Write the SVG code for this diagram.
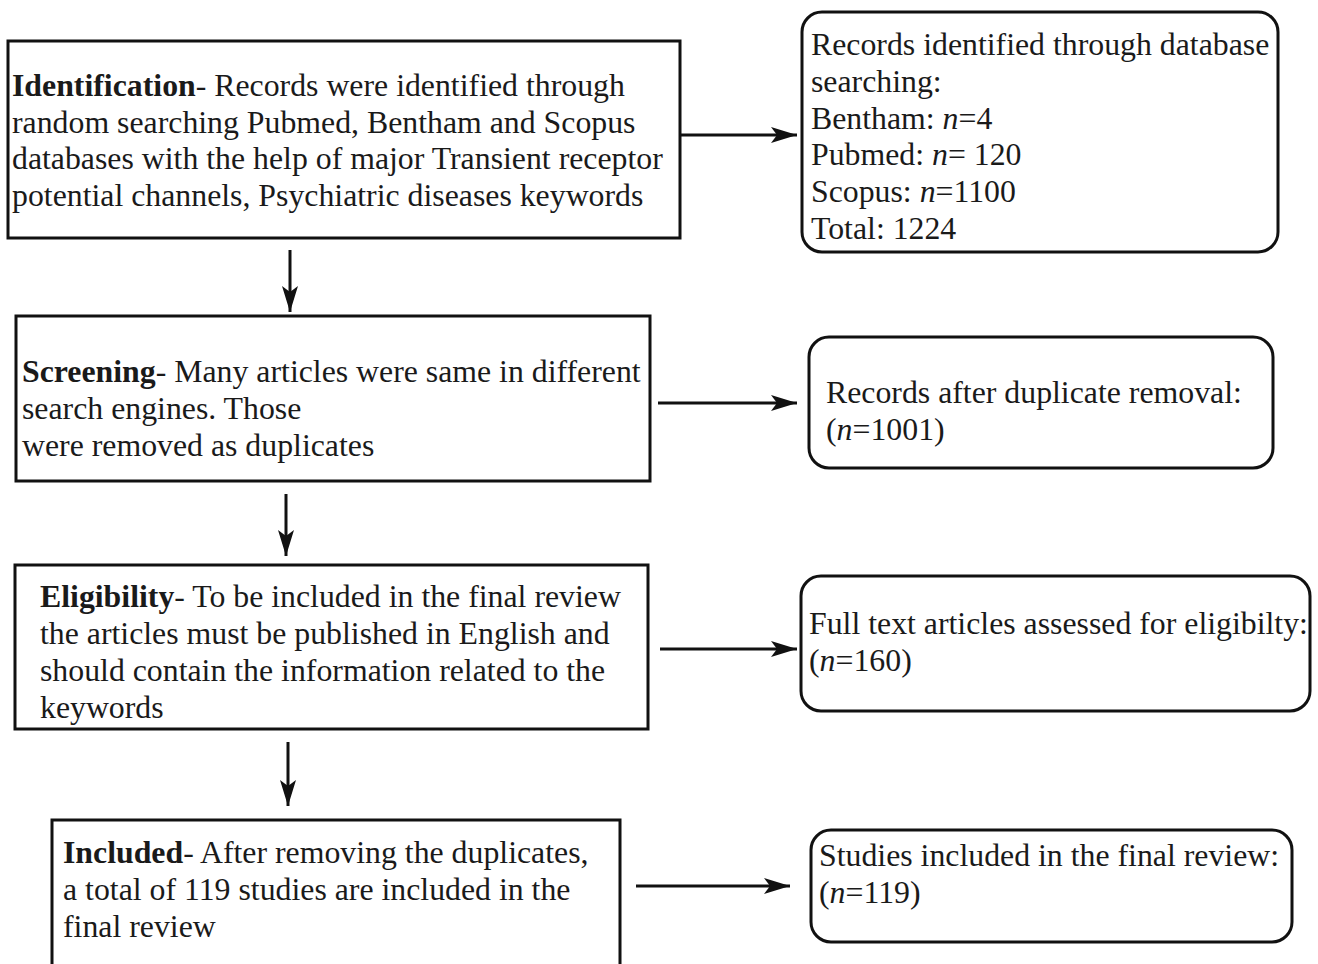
<svg xmlns="http://www.w3.org/2000/svg" width="1318" height="964" viewBox="0 0 1318 964">
<style>
.box{fill:#fff;stroke:#111;stroke-width:3}
.t{font-family:"Liberation Serif","Times New Roman",serif;font-size:31.8px;fill:#1a1a1a}
.b{font-weight:bold}
.i{font-style:italic}
.c{stroke:#111;stroke-width:3;fill:none}
</style>
<defs>
<marker id="arr" viewBox="0 0 26 16" refX="26" refY="8" markerWidth="26" markerHeight="16" markerUnits="userSpaceOnUse" orient="auto">
<path d="M0,0 L26,8 L0,16 L6,8 Z" fill="#111"/>
</marker>
</defs>
<rect width="1318" height="964" fill="#fff"/>
<g id="identification">
<rect class="box" x="8" y="41" width="672" height="197"/>
<text class="t" x="12" y="96"><tspan class="b">Identification</tspan>- Records were identified through</text>
<text class="t" x="12" y="133">random searching Pubmed, Bentham and Scopus</text>
<text class="t" x="12" y="169">databases with the help of major Transient receptor</text>
<text class="t" x="12" y="206">potential channels, Psychiatric diseases keywords</text>
</g>
<g id="records-identified">
<rect class="box" x="802" y="12" width="476" height="240" rx="20"/>
<text class="t" x="811" y="55">Records identified through database</text>
<text class="t" x="811" y="92">searching:</text>
<text class="t" x="811" y="129">Bentham: <tspan class="i">n</tspan>=4</text>
<text class="t" x="811" y="165">Pubmed: <tspan class="i">n</tspan>= 120</text>
<text class="t" x="811" y="202">Scopus: <tspan class="i">n</tspan>=1100</text>
<text class="t" x="811" y="239">Total: 1224</text>
</g>
<g id="screening">
<rect class="box" x="16" y="316" width="634" height="165"/>
<text class="t" x="22" y="382"><tspan class="b">Screening</tspan>- Many articles were same in different</text>
<text class="t" x="22" y="419">search engines. Those</text>
<text class="t" x="22" y="456">were removed as duplicates</text>
</g>
<g id="after-duplicates">
<rect class="box" x="809" y="337" width="464" height="131" rx="20"/>
<text class="t" x="826" y="403">Records after duplicate removal:</text>
<text class="t" x="826" y="440">(<tspan class="i">n</tspan>=1001)</text>
</g>
<g id="eligibility">
<rect class="box" x="15" y="565" width="633" height="164"/>
<text class="t" x="40" y="607"><tspan class="b">Eligibility</tspan>- To be included in the final review</text>
<text class="t" x="40" y="644">the articles must be published in English and</text>
<text class="t" x="40" y="681">should contain the information related to the</text>
<text class="t" x="40" y="718">keywords</text>
</g>
<g id="full-text">
<rect class="box" x="801" y="576" width="509" height="135" rx="20"/>
<text class="t" x="809" y="634">Full text articles assessed for eligibilty:</text>
<text class="t" x="809" y="671">(<tspan class="i">n</tspan>=160)</text>
</g>
<g id="included">
<rect class="box" x="52" y="820" width="568" height="160"/>
<text class="t" x="63" y="863"><tspan class="b">Included</tspan>- After removing the duplicates,</text>
<text class="t" x="63" y="900">a total of 119 studies are included in the</text>
<text class="t" x="63" y="937">final review</text>
</g>
<g id="studies-included">
<rect class="box" x="811" y="830" width="481" height="112" rx="20"/>
<text class="t" x="819" y="866">Studies included in the final review:</text>
<text class="t" x="819" y="903">(<tspan class="i">n</tspan>=119)</text>
</g>
<g id="connectors">
<line class="c" x1="680" y1="135" x2="797" y2="135" marker-end="url(#arr)"/>
<line class="c" x1="658" y1="403" x2="797" y2="403" marker-end="url(#arr)"/>
<line class="c" x1="660" y1="649" x2="797" y2="649" marker-end="url(#arr)"/>
<line class="c" x1="636" y1="886" x2="790" y2="886" marker-end="url(#arr)"/>
<line class="c" x1="290" y1="250" x2="290" y2="312" marker-end="url(#arr)"/>
<line class="c" x1="286" y1="494" x2="286" y2="556" marker-end="url(#arr)"/>
<line class="c" x1="288" y1="742" x2="288" y2="806" marker-end="url(#arr)"/>
</g>
</svg>
